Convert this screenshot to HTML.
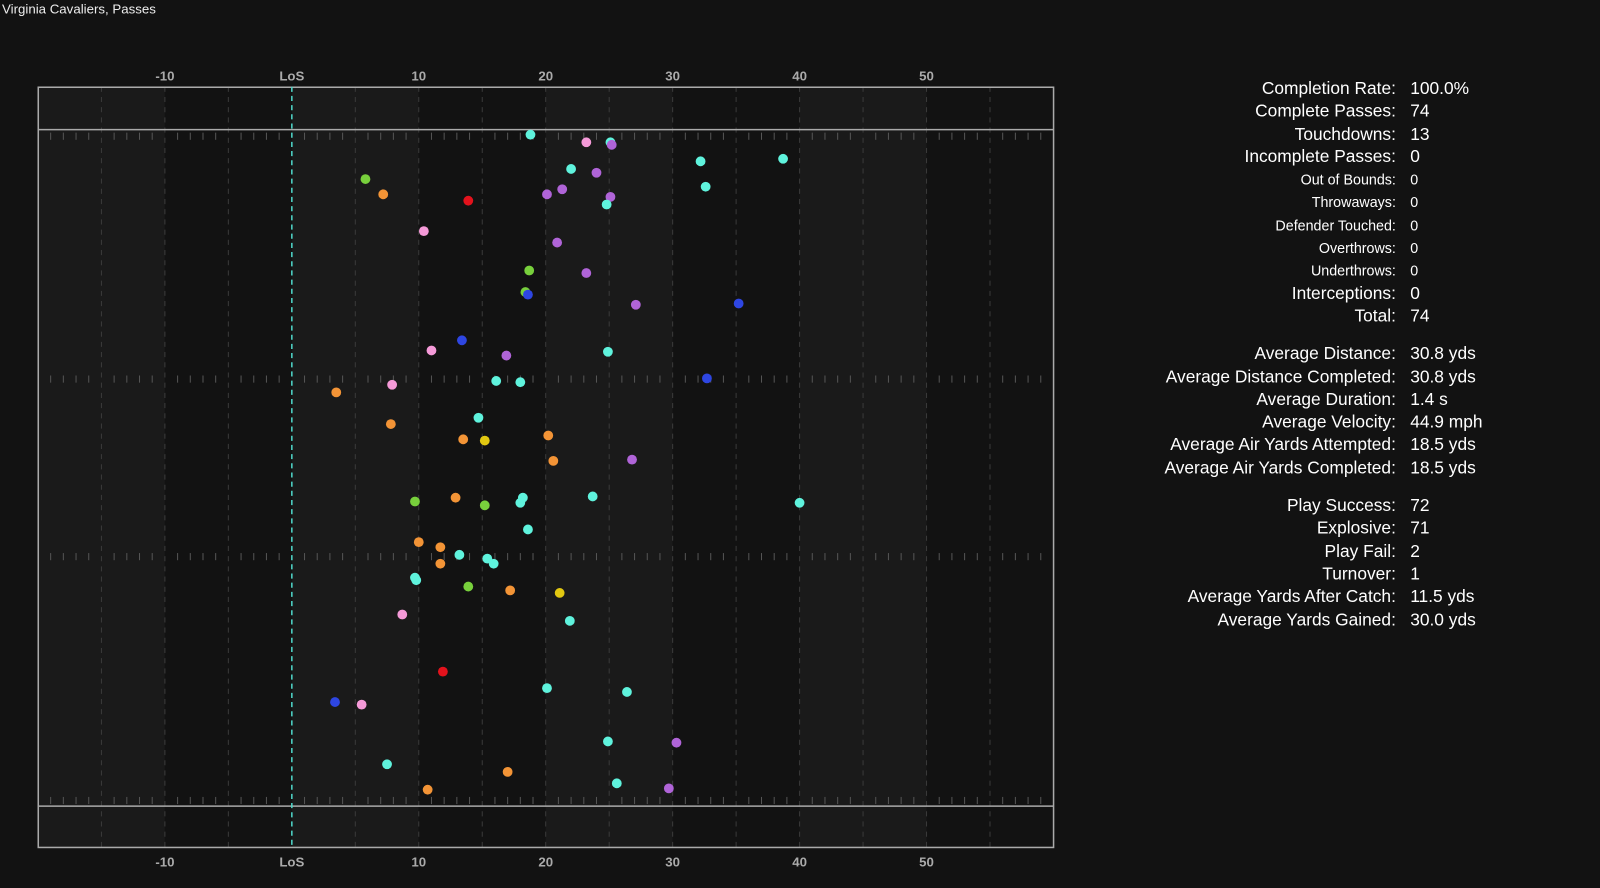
<!DOCTYPE html>
<html><head><meta charset="utf-8"><style>
body{margin:0;background:#121212;width:1600px;height:887px;overflow:hidden;font-family:"Liberation Sans",sans-serif;color:#fff}
#wrap{position:absolute;left:0;top:0;width:1568px;height:870px;transform:scale(1.0204);transform-origin:0 0}
#title{position:absolute;left:2px;top:1px;font-size:13px;color:#eee}
#stats{position:absolute;left:1100px;top:76px;font-size:17px}
.r{display:flex;height:22.3px;line-height:22.3px}
.r .l{width:268px;text-align:right}
.r .v{margin-left:14px}
.s{font-size:14px}
.gap{height:15px}
</style></head><body>
<div id="wrap">
<div id="title">Virginia Cavaliers, Passes</div>
<svg id="chart" width="1568" height="870" style="position:absolute;left:0;top:0"></svg>
<div id="stats"></div>
</div>
<script>
const xTicks=[-10,0,10,20,30,40,50];
const xTickLabels=["-10","LoS","10","20","30","40","50"];
const passX=[18.8,23.2,25.1,25.2,32.2,38.7,22.0,24.0,5.8,32.6,7.2,20.1,21.3,25.1,13.9,24.8,10.4,20.9,18.7,23.2,18.4,18.6,27.1,35.2,13.4,11.0,16.9,24.9,32.7,7.9,16.1,18.0,3.5,7.8,14.7,13.5,15.2,20.2,26.8,20.6,12.9,9.7,15.2,18.2,18.0,23.7,40.0,18.6,10.0,11.7,13.2,15.4,15.9,11.7,9.8,9.7,13.9,17.2,21.1,8.7,21.9,11.9,20.1,26.4,3.4,5.5,24.9,30.3,7.5,17.0,25.6,10.7,29.7];
const passY=[0.4,1.0,1.0,1.2,2.5,2.3,3.1,3.4,3.9,4.5,5.1,5.1,4.7,5.3,5.6,5.9,8.0,8.9,11.1,11.3,12.8,13.0,13.8,13.7,16.6,17.4,17.8,17.5,19.6,20.1,19.8,19.9,20.7,23.2,22.7,24.4,24.5,24.1,26.0,26.1,29.0,29.3,29.6,29.0,29.4,28.9,29.4,31.5,32.5,32.9,33.5,33.8,34.2,34.2,35.5,35.3,36.0,36.3,36.5,38.2,38.7,42.7,44.0,44.3,45.1,45.3,48.2,48.3,50.0,50.6,51.5,52.0,51.9];
const passType=["c","p","c","u","c","c","c","u","g","c","o","u","u","u","r","c","p","u","g","u","g","b","u","b","b","p","u","c","b","p","c","c","o","o","c","o","y","o","u","o","o","g","g","c","c","c","c","c","o","o","c","c","c","o","c","c","g","o","y","p","c","r","c","c","b","p","c","u","c","o","c","o","u"];
const statLabels=["Completion Rate:","Complete Passes:","Touchdowns:","Incomplete Passes:","Out of Bounds:","Throwaways:","Defender Touched:","Overthrows:","Underthrows:","Interceptions:","Total:","","Average Distance:","Average Distance Completed:","Average Duration:","Average Velocity:","Average Air Yards Attempted:","Average Air Yards Completed:","","Play Success:","Explosive:","Play Fail:","Turnover:","Average Yards After Catch:","Average Yards Gained:"];
const statValues=["100.0%","74","13","0","0","0","0","0","0","0","74","","30.8 yds","30.8 yds","1.4 s","44.9 mph","18.5 yds","18.5 yds","","72","71","2","1","11.5 yds","30.0 yds"];
const colors={c:"#5ff3dd",p:"#f59ad8",u:"#b064d8",g:"#78d03c",o:"#f39436",r:"#e3121c",b:"#2e46e2",y:"#e2c811"};
const NS="http://www.w3.org/2000/svg";
const svg=document.getElementById('chart');
const X=v=>286+v*12.44, Y=v=>127+v*12.44;
function mk(t,a,p){const e=document.createElementNS(NS,t);for(const k in a)e.setAttribute(k,a[k]);(p||svg).appendChild(e);return e;}
for(let s=-20;s<60;s+=10){const r=mk('rect',{x:X(s),y:85,width:124.4,height:745,fill:(s/10)%2===0?'#1a1a1a':'#121212'});

}
for(let s=-15;s<60;s+=5){if(s===0)continue;const l=mk('line',{x1:X(s),x2:X(s),y1:85,y2:830,stroke:'#3a3a3a','stroke-dasharray':'5,5'});

}
[130,368,542,781].forEach(hy=>{for(let s=-19;s<60;s++){if(s%5===0)continue;const l=mk('line',{x1:X(s),x2:X(s),y1:hy,y2:hy+7,stroke:'#555','stroke-width':1});

}});
const b=mk('rect',{x:37.5,y:85.5,width:995,height:745,fill:'none',stroke:'#aaa','stroke-width':1.5});


[127,790].forEach(y=>{const l=mk('line',{x1:37,x2:1032,y1:y,y2:y,stroke:'#aaa','stroke-width':1.5});

});
const los=mk('line',{x1:X(0),x2:X(0),y1:85,y2:830,stroke:'#4fd6c8','stroke-width':1.5,'stroke-dasharray':'5,4'});


xTicks.forEach((t,i)=>{[79,849].forEach(y=>{const e=mk('text',{x:X(t),y:y,'text-anchor':'middle',fill:'#aaa','font-size':13,'font-weight':'bold','font-family':'Liberation Sans, sans-serif'});e.textContent=xTickLabels[i];

});});
passX.forEach((x,i)=>{const c=mk('circle',{cx:X(x),cy:Y(passY[i]),r:4.8,fill:colors[passType[i]]});

});
const st=document.getElementById('stats');
const small=new Set([4,5,6,7,8]);
statLabels.forEach((l,i)=>{const d=document.createElement('div');
if(l===''){d.className='gap';}else{d.className='r'+(small.has(i)?' s':'');d.innerHTML='<span class="l">'+l+'</span><span class="v">'+statValues[i]+'</span>';}


st.appendChild(d);});
</script>
</body></html>
